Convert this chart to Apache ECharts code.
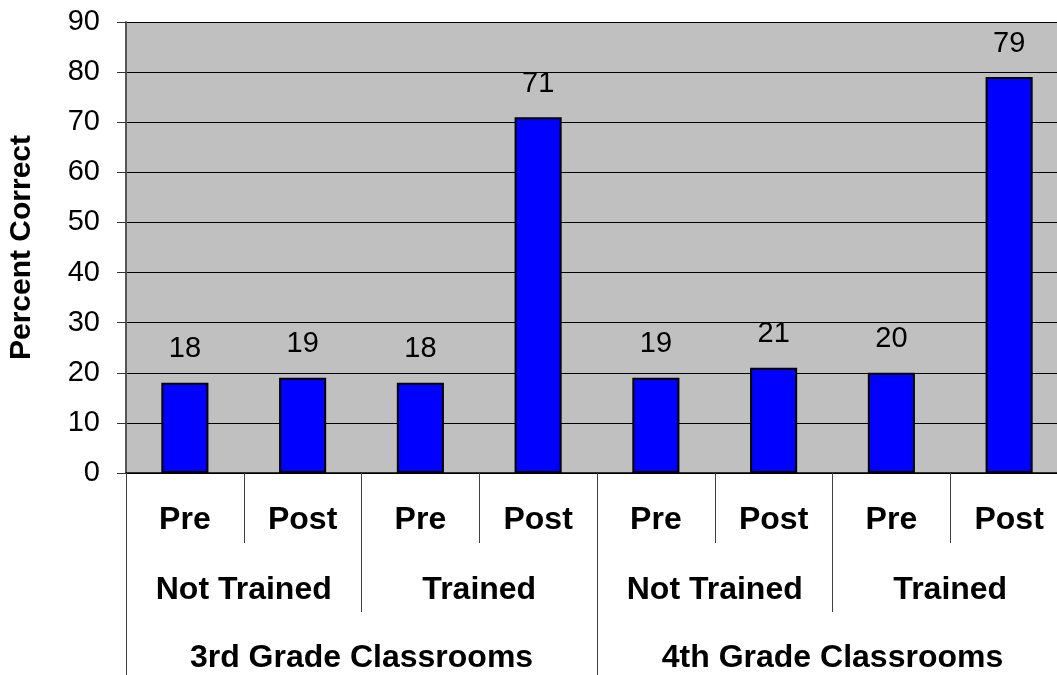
<!DOCTYPE html>
<html>
<head>
<meta charset="utf-8">
<script src="https://cdn.jsdelivr.net/npm/echarts@6/dist/echarts.min.js"></script>
<style>
  html, body { margin: 0; padding: 0; background: #fff; }
  #chart { width: 1057px; height: 675px; }
</style>
</head>
<body>
<div id="chart"></div>
<script>
// data
var phases = ['Pre', 'Post', 'Pre', 'Post', 'Pre', 'Post', 'Pre', 'Post'];
var trainings = ['Not Trained', 'Trained', 'Not Trained', 'Trained'];
var grades = ['3rd Grade Classrooms', '4th Grade Classrooms'];
var percentCorrect = [18, 19, 18, 71, 19, 21, 20, 79];
var yTicks = { min: 0, max: 90, step: 10 };

var font = 'Liberation Sans, Arial, sans-serif';
var chart = echarts.init(document.getElementById('chart'));

// one bottom axis per level, the long ticks make the separators
function levelAxis(cats, tickLen, labelGap) {
  return {
    type: 'category',
    data: cats,
    position: 'bottom',
    axisLine: { show: false },
    axisTick: { show: true, interval: 0, length: tickLen, lineStyle: { color: '#404040', width: 1 } },
    axisLabel: {
      interval: 0, margin: labelGap, verticalAlign: 'middle',
      fontFamily: font, fontSize: 32, fontWeight: 'bold', color: '#000'
    },
    splitLine: { show: false }
  };
}

var lvl1 = levelAxis(phases, 70, 47);
lvl1.axisLine = { show: true, lineStyle: { color: '#000', width: 1.5 } };

var option = {
  animation: false,
  grid: {
    left: 126, top: 22, width: 942, bottom: 202,
    outerBoundsMode: 'none',
    show: true, backgroundColor: '#C0C0C0', borderWidth: 0
  },
  xAxis: [lvl1, levelAxis(trainings, 139, 117), levelAxis(grades, 210, 185)],
  yAxis: {
    type: 'value',
    min: yTicks.min, max: yTicks.max, interval: yTicks.step,
    name: 'Percent Correct',
    nameLocation: 'middle',
    nameRotate: 90,
    nameGap: 89,
    nameTextStyle: { fontFamily: font, fontSize: 30, fontWeight: 'bold', color: '#000' },
    axisLine: { show: true, lineStyle: { color: '#555', width: 2 } },
    axisTick: { show: true, inside: false, length: 9, lineStyle: { color: '#333' } },
    axisLabel: { margin: 26, fontFamily: font, fontSize: 29, color: '#000' },
    splitLine: { show: true, lineStyle: { color: '#000', width: 1 } }
  },
  series: [{
    type: 'bar',
    xAxisIndex: 0,
    data: percentCorrect,
    barWidth: '40%',
    itemStyle: { color: '#0000FF', borderColor: '#000', borderWidth: 2 },
    label: {
      show: true, position: 'top', distance: 19,
      fontFamily: font, fontSize: 29, color: '#000'
    }
  }]
};
chart.setOption(option);
</script>
</body>
</html>
